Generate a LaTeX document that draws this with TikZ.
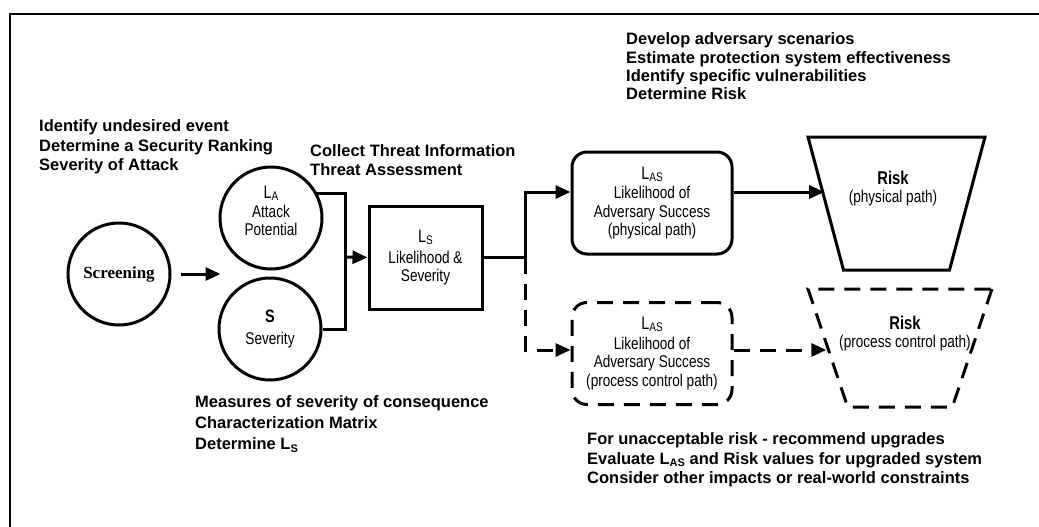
\documentclass[tikz,border=0pt]{standalone}
\usepackage{fontspec}
\setmainfont{Liberation Sans}
\newfontfamily\narrowfont[FakeStretch=0.8]{Liberation Sans}
\newfontfamily\timesfont{Liberation Serif}
\usepackage{tikz}
\usetikzlibrary{positioning}
\usetikzlibrary{arrows.meta}
\usetikzlibrary{shapes.geometric}
\newcommand{\lsub}[1]{{\fontsize{11}{11}\selectfont\raisebox{-2.5pt}{#1}}}
\newcommand{\bigL}[1]{{\fontsize{18}{18}\selectfont L{\fontsize{12.5}{12}\selectfont\raisebox{-2pt}{#1}}}}
\tikzset{every node/.style={inner sep=0pt},
stage/.style={ % circles on the left
circle, draw, line width=3pt, minimum size=102pt, align=center,
font=\narrowfont\fontsize{17}{18}\selectfont},
block/.style={rectangle, draw, line width=3pt, minimum width=113pt,
minimum height=103pt, align=center, font=\narrowfont\fontsize{17}{18}\selectfont},
lasbox/.style={rectangle, rounded corners=15pt, draw, line width=3pt,
minimum width=160pt, minimum height=102pt, align=center,
font=\narrowfont\fontsize{17}{18.5}\selectfont},
riskshape/.style={trapezium, shape border rotate=180, inner sep=2pt,
trapezium stretches=true, draw, line width=3pt},
risktext/.style={align=center, font=\narrowfont\fontsize{17}{18}\selectfont},
dashline/.style={dash pattern=on 16pt off 10pt}, % dashed path
link/.style={line width=3pt, -{Triangle[length=15pt,width=13pt]}},
note/.style={anchor=west, align=left, font=\bfseries\fontsize{16.5}{19.5}\selectfont}}
\begin{document}
\begin{tikzpicture}[x=1pt,y=-1pt]
\useasboundingbox (0,0) rectangle (1039,527);
\draw[line width=2pt] (10,527) -- (10,14) -- (1039,14);
\node[stage, font=\timesfont\bfseries\fontsize{17}{18}\selectfont] (screen) at (119,274) {Screening};
\node[stage, text depth=14pt] (la) at (271,218) {\bigL{A}\\[1pt]Attack\\Potential};
\node[stage] (sev) at (270,329) {{\bfseries\fontsize{18}{18}\selectfont S}\\[4pt]Severity};
\node[block] (ls) at (425.5,257.5) {\bigL{S}\\[3pt]Likelihood \&\\Severity};
\node[lasbox] (lasphys) at (652,203) {\bigL{AS}\\[1pt]Likelihood of\\Adversary Success\\(physical path)};
\node[lasbox, dashline] (lasproc) at (652,353.5) {\bigL{AS}\\[1pt]Likelihood of\\Adversary Success\\(process control path)};
\node[riskshape, minimum width=177pt, minimum height=133pt,
trapezium left angle=71.5, trapezium right angle=71.5] (riskphys) at (896.5,203.5) {};
\node[risktext] (riskphystxt) at (893,189) {{\bfseries\fontsize{18.5}{18}\selectfont Risk}\\(physical path)};
\node[riskshape, dashline, minimum width=184pt, minimum height=118pt,
trapezium left angle=69.3, trapezium right angle=69.3] (riskproc) at (900,348) {};
\node[risktext] (riskproctxt) at (905,334) {{\bfseries\fontsize{18.5}{18}\selectfont Risk}\\(process control path)};
\coordinate (join) at (345,257);
\coordinate (split) at (525,192);
\coordinate (dsplit) at (525,350);
\draw[link] ([xshift=9pt]screen.east) -- ([xshift=49pt]screen.east);
\draw[line width=3pt] (la.28) -| (join) |- (sev.east);
\draw[link] (join) -- (ls.west);
\draw[link] (ls.east) -| (split) -- (lasphys.west |- split);
\draw[link] (lasphys.east |- split) -- (riskphys.west |- split);
\draw[link, dashline] (ls.east -| dsplit) -- (dsplit) -- (lasproc.west |- dsplit);
\draw[link, dashline] (lasproc.east |- dsplit) -- (riskproc.west |- dsplit);
\node[note] (screennote) at (39,147) {Identify undesired event\\Determine a Security Ranking\\Severity of Attack};
\node[note] (threatnote) at (310,160) {Collect Threat Information\\Threat Assessment};
\node[note, font=\bfseries\fontsize{16.5}{18.3}\selectfont] (scenarionote) at (626,66.5) {Develop adversary scenarios\\Estimate protection system effectiveness\\Identify specific vulnerabilities\\Determine Risk};
\node[note, font=\bfseries\fontsize{16.5}{21}\selectfont] (severitynote) at (195,424) {Measures of severity of consequence\\Characterization Matrix\\Determine L\lsub{S}};
\node[note] (upgradenote) at (587,460) {For unacceptable risk - recommend upgrades\\Evaluate L\lsub{AS} and Risk values for upgraded system\\Consider other impacts or real-world constraints};
\end{tikzpicture}
\end{document}
